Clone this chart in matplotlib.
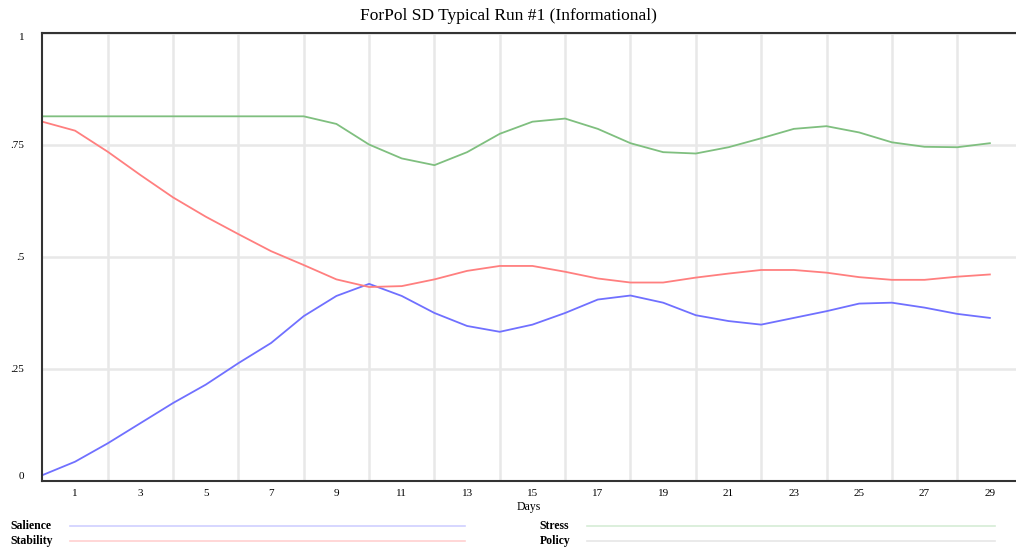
#!/usr/bin/env python3
# -*- coding: utf-8 -*-
"""ForPol SD typical run #1: salience, stability and stress over 29 days."""

import matplotlib
matplotlib.use("Agg")
import matplotlib.pyplot as plt
from matplotlib.lines import Line2D


days = list(range(0, 30))

salience = [0.013, 0.043, 0.084, 0.129, 0.174, 0.215, 0.263, 0.308, 0.368, 0.413,
            0.440, 0.413, 0.375, 0.346, 0.333, 0.349, 0.375, 0.405, 0.414, 0.398,
            0.370, 0.357, 0.349, 0.364, 0.379, 0.396, 0.398, 0.387, 0.373, 0.364]

stability = [0.802, 0.782, 0.735, 0.683, 0.633, 0.590, 0.551, 0.513, 0.482, 0.450,
             0.433, 0.435, 0.450, 0.469, 0.480, 0.480, 0.467, 0.452, 0.443, 0.443,
             0.454, 0.463, 0.471, 0.471, 0.465, 0.455, 0.449, 0.449, 0.456, 0.461]

stress = [0.814, 0.814, 0.814, 0.814, 0.814, 0.814, 0.814, 0.814, 0.814, 0.797,
          0.751, 0.720, 0.705, 0.734, 0.775, 0.802, 0.809, 0.786, 0.754, 0.734,
          0.731, 0.745, 0.765, 0.786, 0.792, 0.778, 0.756, 0.746, 0.745, 0.754]

y_ticks = [0, 0.25, 0.5, 0.75, 1]
y_labels = ["0", ".25", ".5", ".75", "1"]
x_ticks = list(range(1, 30, 2))
x_grid = list(range(2, 29, 2)) + [29]

legend_names = ["Salience", "Stability", "Stress", "Policy"]
COLORS = {"Salience": "#7070ff", "Stability": "#ff7f7f", "Stress": "#7fbf7f"}
LEGEND_COLORS = {"Salience": "#d0d0ff", "Stability": "#ffd0d0",
                 "Stress": "#d6ecd6", "Policy": "#e6e6e6"}

SERIF = ["Liberation Serif", "DejaVu Serif"]


def main() -> None:
    fig = plt.figure(figsize=(10.16, 5.5), dpi=100)
    ax = fig.add_axes([0.0417, 0.1255, 0.9583, 0.8145])

    ax.plot(days, salience, color=COLORS["Salience"], linewidth=1.3)
    ax.plot(days, stability, color=COLORS["Stability"], linewidth=1.3)
    ax.plot(days, stress, color=COLORS["Stress"], linewidth=1.3)

    ax.set_xlim(0, 29.8)
    ax.set_ylim(0, 1.0)

    ax.set_xticks(x_ticks)
    ax.set_xticklabels([str(d) for d in x_ticks], family=SERIF, fontsize=8)
    ax.set_xticks(x_grid, minor=True)
    ax.set_yticks(y_ticks)
    ax.set_yticklabels(y_labels, family=SERIF, fontsize=8)
    ax.tick_params(axis="both", which="both", length=0)
    ax.tick_params(axis="y", pad=13)
    ax.tick_params(axis="x", pad=6)
    ylabels = ax.get_yticklabels()
    ylabels[0].set_va("bottom")
    ylabels[-1].set_va("top")

    ax.grid(True, axis="x", which="minor", color="#e8e8e8", linewidth=1.8)
    ax.grid(True, axis="y", which="major", color="#e8e8e8", linewidth=1.8)
    ax.set_axisbelow(True)

    for side in ("left", "top", "bottom"):
        ax.spines[side].set_color("#333333")
        ax.spines[side].set_linewidth(1.5)
    ax.spines["right"].set_visible(False)

    ax.set_xlabel("Days", family=SERIF, fontsize=8.5, labelpad=2)
    fig.text(0.5, 0.970, "ForPol SD Typical Run #1 (Informational)",
             family=SERIF, fontsize=12.5, ha="center", va="center")

    # legend block under the chart: name on the left, long faint line after it
    rows = [0.0443, 0.0161]
    cols = [(0.010, 0.069, 0.458), (0.531, 0.578, 0.979)]
    for i, name in enumerate(legend_names):
        tx, x0, x1 = cols[i // 2]
        y = rows[i % 2]
        fig.text(tx, y, name, family=SERIF, fontsize=8.5, fontweight="bold",
                 va="center", ha="left")
        fig.add_artist(Line2D([x0, x1], [y, y], transform=fig.transFigure,
                              color=LEGEND_COLORS[name], linewidth=1.2))

    fig.savefig("out.png", dpi=100)
    plt.close(fig)


if __name__ == "__main__":
    main()
